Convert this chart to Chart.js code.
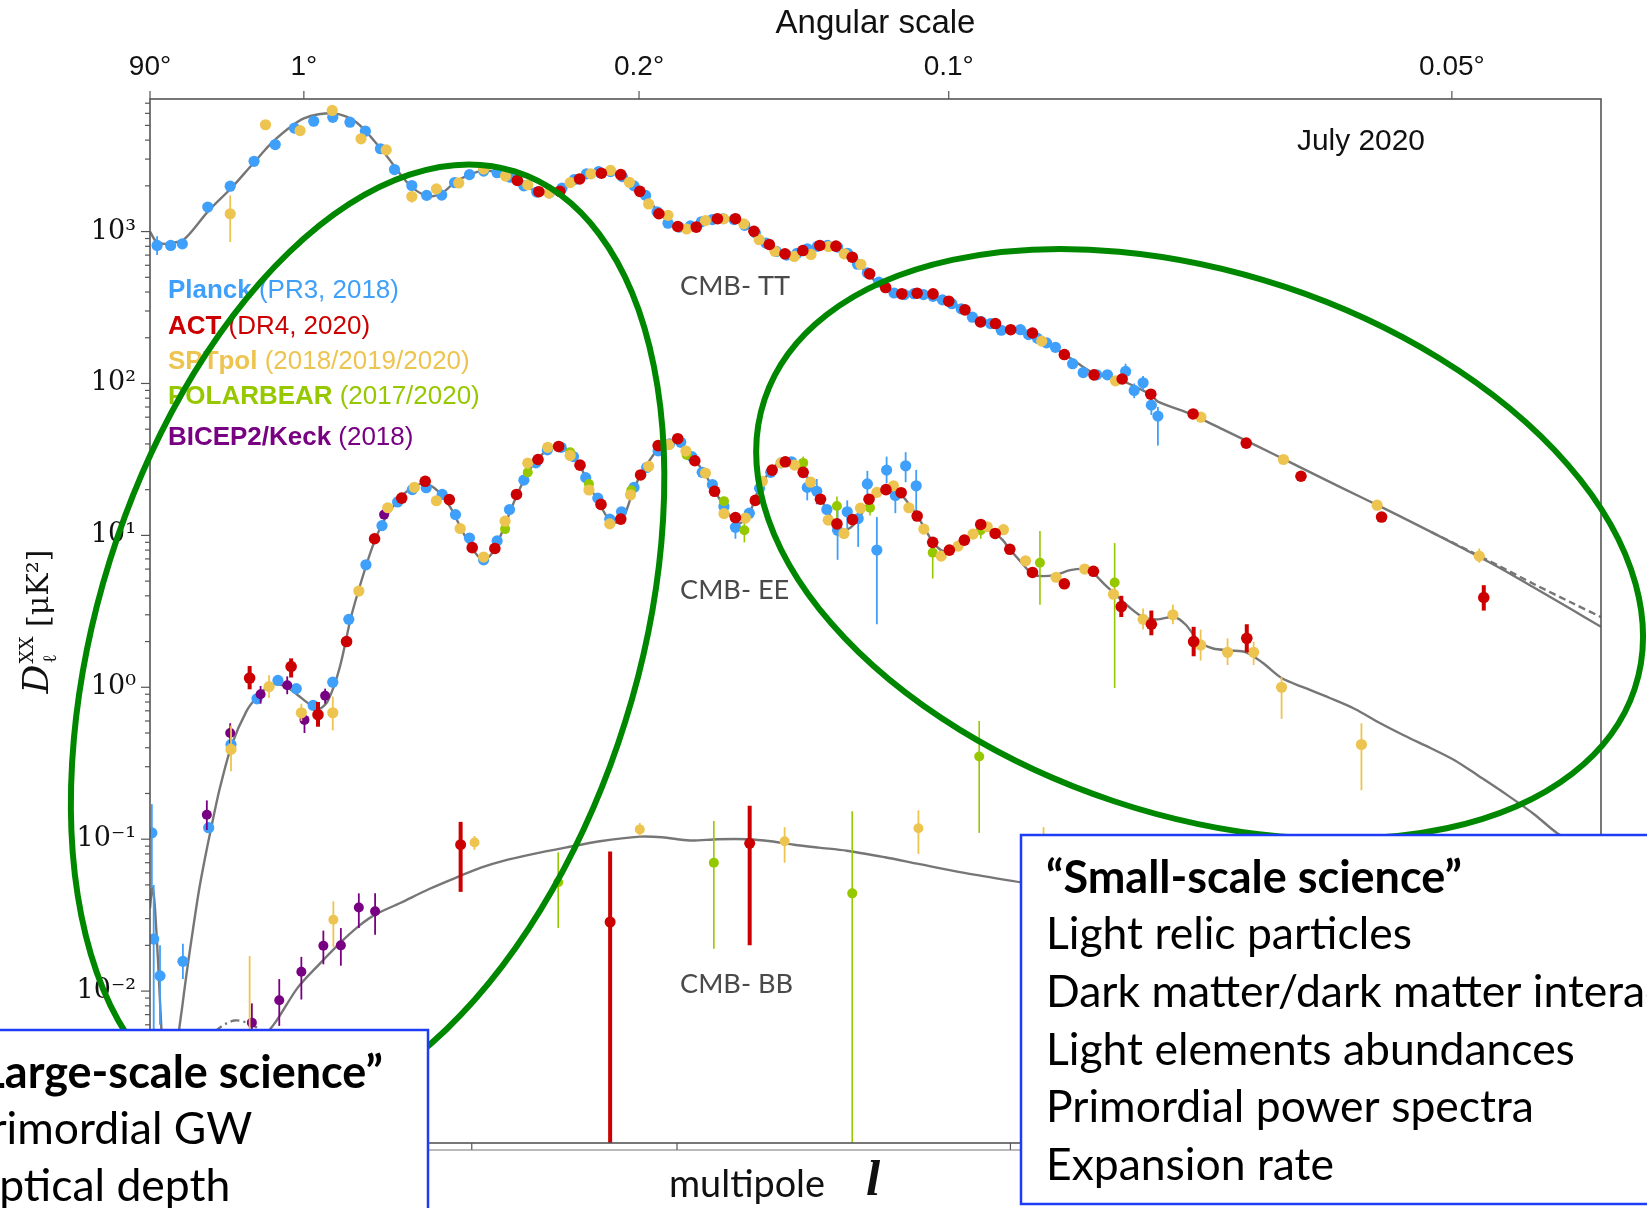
<!DOCTYPE html>
<html>
<head>
<meta charset="utf-8">
<script src="https://cdn.jsdelivr.net/npm/chart.js@4.4.0/dist/chart.umd.min.js"></script>
<style>
  html, body { margin: 0; padding: 0; background: #fff; }
  canvas { display: block; }
</style>
</head>
<body>
<canvas id="cmbSpectra" width="1647" height="1208"></canvas>
<script>
// =================== data ===================
// rows are [multipole ell, D_ell in muK^2, error low, error high]

const theoryTT = [[2,1000],[5,860],[10,830],[14,840],[25,880],[50,1374],[77,1950],[105,2818],[135,4000],[180,5560],[230,6000],
  [270,5230],[318,3400],[369,2050],[405,1720],[434,1770],[463,2100],[495,2370],[526,2520],[556,2460],[586,2280],[617,2020],
  [647,1850],[677,1820],[707,1920],[737,2170],[767,2380],[800,2480],[827,2480],[857,2330],[887,2000],[917,1720],[947,1380],
  [976,1170],[1006,1075],[1036,1090],[1066,1150],[1096,1200],[1126,1215],[1156,1195],[1186,1110],[1216,990],[1246,850],
  [1276,750],[1306,710],[1336,730],[1366,780],[1396,805],[1426,810],[1456,790],[1486,720],[1516,620],[1546,530],[1576,460],
  [1606,420],[1640,395],[1680,390],[1720,390],[1760,375],[1800,348],[1840,315],[1880,280],[1920,256],[1960,240],[2000,226],
  [2040,215],[2080,205],[2120,185],[2160,165],[2200,147],[2240,130],[2280,117],[2320,111],[2360,108],[2400,100],[2440,92],
  [2480,84],[2503,76],[2610,64],[2733,50],[2857,39],[2986,30],[3118,23],[3253,17.7],[3393,13.5],[3520,10.5],[3650,8.1],
  [3790,6.1],[3930,4.5],[4080,3.25],[4200,2.5]];
const theoryTTfg = [[3520,10.5],[3650,8.2],[3790,6.25],[3930,4.75],[4080,3.6],[4200,2.9]];

const theoryEE = [[2,0.035],[3,0.048],[4,0.04],[5,0.026],[6,0.016],[7,0.0095],[8,0.0058],[10,0.0022],[12,0.0009],[14,0.0006],
  [17,0.0012],[20,0.0045],[24,0.008],[28,0.0134],[34,0.026],[40,0.047],[46,0.075],[52,0.113],[62,0.21],[77,0.42],[96,0.70],
  [110,0.86],[130,1.04],[150,1.02],[170,0.89],[190,0.77],[205,0.72],[220,0.82],[240,1.35],[260,2.9],[280,5.2],[300,8.6],
  [320,12.4],[340,15.8],[360,18.8],[380,21],[400,22],[420,20.6],[440,17.8],[460,14.2],[480,10.6],[500,8.3],[520,7.0],
  [535,7.1],[550,8.1],[570,11],[590,15.5],[610,21],[630,27],[650,32],[675,37],[700,38.5],[725,35.5],[750,29],[775,21],
  [800,16],[825,12.5],[845,12.2],[860,13.2],[880,18],[900,24],[925,30.5],[950,37],[975,40.5],[1000,42],[1025,37],[1050,31],
  [1075,25.5],[1100,20],[1125,16],[1150,13],[1170,12],[1185,12.6],[1200,14],[1225,20],[1250,25],[1275,29],[1300,30.5],
  [1325,30],[1350,27],[1375,22.5],[1400,18.5],[1425,14.5],[1450,12],[1475,10.8],[1500,11.5],[1525,13.5],[1550,16.5],
  [1575,18.5],[1600,19.5],[1625,19.5],[1650,18.5],[1675,16],[1700,13.5],[1725,11],[1750,9],[1775,8],[1800,7.8],[1825,8.3],
  [1850,9.3],[1875,10.3],[1900,10.8],[1925,10.8],[1950,10.3],[1975,9.3],[2000,8.0],[2040,6.5],[2070,5.6],[2100,5.4],
  [2150,5.5],[2200,5.9],[2250,6.0],[2280,5.6],[2320,4.7],[2360,4.0],[2400,3.4],[2450,2.9],[2500,2.8],[2560,2.9],[2600,2.6],
  [2650,2.0],[2700,1.8],[2760,1.75],[2820,1.7],[2880,1.45],[2950,1.15],[3037,0.99],[3130,0.85],[3225,0.72],[3322,0.58],
  [3416,0.48],[3514,0.40],[3612,0.33],[3707,0.26],[3820,0.195],[3930,0.145],[4020,0.11],[4200,0.075]];

const theoryBB = [[20,0.0003],[40,0.0009],[70,0.0022],[100,0.0038],[137,0.0063],[170,0.0105],[205,0.015],[242,0.021],
  [275,0.027],[305,0.032],[352,0.038],[410,0.047],[473,0.057],[520,0.065],[570,0.072],[640,0.08],[715,0.088],[800,0.097],
  [902,0.104],[960,0.103],[1035,0.098],[1110,0.1],[1195,0.1],[1260,0.097],[1327,0.092],[1400,0.088],[1484,0.084],
  [1600,0.076],[1700,0.069],[1850,0.06],[2035,0.052],[2400,0.04],[3000,0.026],[3600,0.018],[4200,0.013]];
const theoryBBtensor = [[30,0.0025],[45,0.0042],[60,0.0056],[80,0.0064],[100,0.0061],[120,0.0053],[150,0.0038],[190,0.0022],[240,0.001]];

const planckTT = [[5.5,810,700,930],[14.5,810],[24,830],[49,1450],[75,1990],[106,2900],[136,3740],[165,4800],[196,5330],
  [228,5650],[258,5250],[286,4580],[314,3510],[341,2560],[375,2010],[405,1730],[436,1740],[463,2100],[495,2370],[526,2500],
  [556,2440],[586,2280],[617,2000],[647,1820],[677,1800],[707,1930],[737,2200],[767,2400],[797,2480],[827,2480],[857,2300],
  [887,2000],[917,1730],[947,1350],[976,1135],[1006,1070],[1036,1090],[1066,1160],[1096,1200],[1126,1215],[1156,1200],
  [1186,1100],[1216,980],[1246,840],[1276,740],[1306,700],[1336,720],[1366,770],[1396,800],[1426,810],[1456,790],[1486,720],
  [1516,610],[1546,535],[1581,465],[1628,394],[1660,385],[1690,390],[1720,385],[1750,375],[1780,355],[1810,335],[1840,310],
  [1876,273],[1905,255],[1935,248],[1970,224],[2033,226],[2060,210],[2090,198],[2120,185],[2150,173],[2208,135],[2244,118],
  [2290,114],[2327,114],[2390,120,105,135],[2420,90,80,100],[2451,101,90,112],[2480,72,62,82],[2503,61,39,70]];
const actTT = [[602,2170],[652,1830],[702,1840],[750,2220],[804,2420],[853,2370],[902,1840],[952,1310],[1002,1080],[1052,1070],
  [1110,1215],[1160,1215],[1212,1005],[1256,822],[1301,714],[1353,750],[1403,810],[1451,802],[1500,678],[1553,527],[1602,428],
  [1652,389],[1700,393],[1750,389],[1800,348],[1852,305],[1902,254],[1951,248],[2001,226],[2073,215],[2180,155],[2281,114],
  [2378,107],[2478,85],[2628,63],[2820,40.5],[3022,24.5],[3327,13.2],[3726,3.9,3.2,4.7]];
const sptTT = [[75,1310,853,1730],[122,5050,4700,5400],[174,4620,4250,5000],[227,6270],[278,4080],[325,3450],[375,1700,1550,1850],
  [425,1910],[472,2090],[526,2580],[575,2320],[626,2030],[676,1790],[727,2100],[778,2400],[827,2530],[875,2110],[925,1520],
  [976,1280],[1026,1040],[1077,1180],[1127,1215],[1183,1125],[1227,884],[1272,742],[1328,686],[1377,707],[1429,797],[1476,714],
  [1526,609],[2104,190],[2355,104],[2656,60],[2957,31.6],[3310,15.8],[3708,7.3,6.6,8.2]];

const planckEE = [[2.8,0.11,0.048,0.17],[3.7,0.022,0.001,0.05],[7.2,0.0126,0.006,0.02],[24.5,0.0157,0.012,0.0205],[50,0.119],
  [76,0.42],[110,0.84],[140,1.11],[168,0.98],[195,0.76],[228,1.08],[256,2.8],[287,6.4],[317,11.6],[347,16.6],[376,20],
  [404,20.6],[437,18.6],[465,13.7],[495,9.6],[526,6.9],[556,9.2],[584,14.8],[617,23.1],[645,30],[672,36.6],[705,38],[735,33],
  [765,24],[795,17.6],[825,12.8],[855,14.3],[887,20.7],[920,28],[950,36],[980,40],[1010,41],[1040,33],[1068,26],[1096,21.6],
  [1128,15.5],[1160,11.3,9.5,13],[1199,14],[1228,20.4],[1260,26],[1290,30],[1320,30.5],[1366,20.7,17,25],[1394,19.5,16,23.5],
  [1424,14.8],[1456,10.8,6.9,15.8],[1485,14.3,11,17],[1518,12.9,8.4,15],[1546,21.8,18,26.6],[1575,8.0,2.6,13.2],
  [1605,26.9,22,33],[1632,18.3,14,22],[1664,28.7,22.4,35.3],[1697,21.2,13,27]];
const actEE = [[100,1.15,0.97,1.38],[160,1.37,1.16,1.55],[203,0.66,0.55,0.80],[252,2.0],[303,9.5],[355,17.6],[402,22.7],
  [452,17.2],[501,8.3],[551,8.2],[600,18.6],[650,31.6],[699,38.5],[751,29],[803,16],[853,12.8],[904,25],[950,39],[1002,43.3],
  [1048,31],[1102,19.5],[1160,13.1],[1216,17],[1264,26.9],[1302,30.5],[1354,26],[1405,17.3],[1454,11.9],[1501,12.7],
  [1551,17.3],[1603,20],[1650,19.1],[1700,13.4],[1749,9.0],[1802,8.0],[1850,9.3],[1903,11.8],[1950,10.3],[1998,8.1],
  [2073,5.7],[2180,4.8],[2279,5.8],[2375,3.4,2.9,4.0],[2480,2.6,2.2,3.2],[2630,2.0,1.6,2.5],[2822,2.1,1.7,2.6]];
const sptEE = [[76,0.39,0.28,0.56],[127,1.01,0.85,1.2],[176,0.68,0.6,0.78],[228,0.68,0.52,0.87],[274,4.3],[328,15.2],[380,20.7],
  [425,16.9],[475,11.1],[526,7.2],[574,12.4],[626,29.9],[673,38],[727,33.6],[773,19.9],[825,11.9],[878,18.5],[925,28.5],
  [978,39.6],[1024,35.9],[1077,25.7],[1128,13.9],[1188,13],[1236,22.7],[1290,30],[1329,29],[1376,22.4],[1428,12.6],[1475,10.3],
  [1525,15.1],[1575,19.2],[1626,21.2],[1674,15.2],[1721,11.0],[1776,7.3],[1830,8.5],[1878,10.2],[1924,11.4],[1977,10.9],
  [2050,6.8],[2152,5.3],[2249,6.0],[2348,4.1],[2451,2.8,2.4,3.3],[2556,3.0,2.6,3.5],[2655,1.9,1.5,2.4],[2752,1.7,1.4,2.1],
  [2847,1.7,1.4,2.0],[2950,1.0,0.62,1.17],[3250,0.42,0.21,0.58]];
const pbEE = [[574,11.0],[626,26],[727,35.3],[773,21.8],[880,19.8],[1026,33.8],[1128,16.8],[1185,10.8,9,12.5],[1354,30,26,33],
  [1454,15.6,13,18],[1554,15.2,13.5,17],[1749,7.7,5.2,9.3],[1903,10.8,9.5,12.5],[2098,6.6,3.5,10.7],[2352,4.9,0.99,8.9]];
const bkEE = [[48,0.145,0.115,0.18],[75,0.50,0.43,0.58],[115,0.90,0.78,1.02],[154,1.03,0.9,1.18],[181,0.61,0.5,0.72],
  [215,0.88,0.78,0.98],[321,13.7]];

const actBB = [[476,0.092,0.045,0.13],[826,0.0285,0.0005,0.083],[1200,0.094,0.02,0.166]];
const sptBB = [[100,0.004,0.0008,0.017],[229,0.0295,0.0195,0.039],[506,0.095,0.085,0.105],[902,0.116,0.105,0.128],
  [1300,0.097,0.07,0.12],[1704,0.118,0.08,0.155],[2110,0.09,0.07,0.12]];
const pbBB = [[698,0.052,0.026,0.082],[1100,0.070,0.019,0.132],[1500,0.044,0.0005,0.153],[1898,0.35,0.11,0.6]];
const bkBB = [[103,0.0062,0.002,0.0083],[142,0.0087,0.0059,0.012],[176,0.0134,0.0088,0.0168],[212,0.0199,0.015,0.025],
  [242,0.020,0.0147,0.026],[274,0.0355,0.026,0.044],[304,0.0335,0.0235,0.044]];

// axis ticks
const bottomTickEll = [2, 10, 100, 500, 1000, 2000, 3000, 4000];
const angleTickEll = [2, 180, 900, 1800, 3600];
const angleTickLabels = ['90°', '1°', '0.2°', '0.1°', '0.05°'];

// legend entries
const legendNames = ['Planck', 'ACT', 'SPTpol', 'POLARBEAR', 'BICEP2/Keck'];
const legendNotes = [' (PR3, 2018)', ' (DR4, 2020)', ' (2018/2019/2020)', ' (2017/2020)', ' (2018)'];

// =================== helper functions =======================
const POW = 0.7;               // the multipole axis is linear in ell^0.7
const ELL_MIN = 2, ELL_MAX = 4200;
const colors = {
    planck: 'rgb(62,160,250)',
    act: 'rgb(204,0,0)',
    spt: 'rgb(238,196,80)',
    pb: 'rgb(150,200,0)',
    bk: 'rgb(120,0,130)'
};
const SUP = { '-': '⁻', '0': '⁰', '1': '¹', '2': '²', '3': '³' };

function ellToAxis(l) {
    return Math.pow(l, POW);
}

function toPoints(rows) {
    return rows.map(r => ({ x: ellToAxis(r[0]), y: r[1], lo: r[2], hi: r[3] }));
}

function isDecade(v) {
    const e = Math.log10(v);
    return Math.abs(e - Math.round(e)) < 1e-6;
}

function decadeLabel(v) {
    const e = String(Math.round(Math.log10(v)));
    return '10' + e.split('').map(c => SUP[c]).join('');
}

function pointSet(rows, color, order, radius, errWidth) {
    return {
        data: toPoints(rows),
        backgroundColor: color,
        borderColor: color,
        pointRadius: radius,
        pointBorderWidth: 0,
        showLine: false,
        order: order,
        errWidth: errWidth
    };
}

function curveSet(rows, dash) {
    return {
        data: toPoints(rows),
        showLine: true,
        borderColor: 'rgb(118,118,118)',
        borderWidth: 2.4,
        borderDash: dash || [],
        pointRadius: 0,
        tension: 0.3,
        fill: false,
        order: 20
    };
}

// font size that makes text span the given width
function fitSize(ctx, parts, width) {
    let w = 0;
    parts.forEach(p => {
        ctx.font = p.style + ' 100px ' + p.family;
        w += ctx.measureText(p.text).width;
    });
    return 100 * width / w;
}

function line(ctx, x1, y1, x2, y2) {
    ctx.beginPath();
    ctx.moveTo(x1, y1);
    ctx.lineTo(x2, y2);
    ctx.stroke();
}
// =================== END HELPER FUNCTIONS ===================

// vertical error bars, drawn just under each dataset's dots
const errorBars = {
    id: 'errorBars',
    beforeDatasetDraw(chart, args) {
        const ds = chart.data.datasets[args.index];
        if (!ds.errWidth) return;
        const { ctx, chartArea: a, scales: { x, y } } = chart;
        ctx.save();
        ctx.beginPath();
        ctx.rect(a.left, a.top, a.width, a.height);
        ctx.clip();
        ctx.strokeStyle = ds.backgroundColor;
        ctx.lineWidth = ds.errWidth;
        ds.data.forEach(p => {
            if (p.lo == null) return;
            const px = x.getPixelForValue(p.x);
            line(ctx, px, y.getPixelForValue(p.lo), px, y.getPixelForValue(p.hi));
        });
        ctx.restore();
    }
};

// frame, tick marks, labels and the slide annotations on top
const overlay = {
    id: 'overlay',
    afterDraw(chart) {
        const { ctx, chartArea: a, scales } = chart;
        ctx.save();

        // frame and tick marks
        ctx.strokeStyle = '#555';
        ctx.lineWidth = 1.6;
        ctx.strokeRect(a.left, a.top, a.width, a.height);
        ctx.lineWidth = 1.2;
        scales.y.ticks.forEach(t => {
            const py = scales.y.getPixelForValue(t.value);
            const len = isDecade(t.value) ? 9 : 5;
            line(ctx, a.left - len, py, a.left, py);
        });
        scales.xTop.ticks.forEach(t => {
            const px = scales.xTop.getPixelForValue(t.value);
            line(ctx, px, a.top - 8, px, a.top);
        });
        scales.x.ticks.forEach(t => {
            const px = scales.x.getPixelForValue(t.value);
            line(ctx, px, a.bottom, px, a.bottom + 7);
        });
        ctx.strokeStyle = '#777';
        line(ctx, a.left, a.bottom + 7, a.right, a.bottom + 7);

        // y axis title  D_l^XX [muK^2]
        ctx.save();
        ctx.translate(37, 622);
        ctx.rotate(-Math.PI / 2);
        ctx.fillStyle = '#111';
        ctx.textBaseline = 'alphabetic';
        const fD = 'italic 36px "DejaVu Serif"', fS = '19px "DejaVu Serif"', fR = '30px "DejaVu Serif"';
        ctx.font = fD; const wD = ctx.measureText('D').width;
        ctx.font = fS; const wS = ctx.measureText('XX').width;
        ctx.font = fR; const wR = ctx.measureText(' [μK²]').width;
        let px = -(wD + wS + wR) / 2;
        ctx.font = fD; ctx.fillText('D', px, 11); px += wD + 1;
        ctx.font = fS; ctx.fillText('XX', px, -4); ctx.fillText('ℓ', px, 19); px += wS;
        ctx.font = fR; ctx.fillText(' [μK²]', px, 11);
        ctx.restore();

        // x axis title
        ctx.fillStyle = '#111';
        ctx.textBaseline = 'middle';
        const mSize = fitSize(ctx, [{ style: 'normal', family: 'Lato', text: 'multipole' }], 156);
        ctx.font = mSize + 'px Lato';
        ctx.fillText('multipole', 669, 1185);
        ctx.font = 'italic bold ' + (mSize * 1.35) + 'px "Liberation Serif"';
        ctx.fillText('l', 866, 1182);

        // date and spectrum names
        const jSize = fitSize(ctx, [{ style: 'normal', family: '"Liberation Sans"', text: 'July 2020' }], 128);
        ctx.font = jSize + 'px "Liberation Sans"';
        ctx.fillText('July 2020', 1297, 142);
        const cSize = fitSize(ctx, [{ style: 'normal', family: 'Lato', text: 'CMB- TT' }], 110);
        ctx.font = cSize + 'px Lato';
        ctx.fillStyle = '#4a4a4a';
        ctx.fillText('CMB- TT', 680, 286);
        ctx.fillText('CMB- EE', 680, 590);
        ctx.fillText('CMB- BB', 680, 984);

        // experiment legend
        const legendColors = [colors.planck, colors.act, colors.spt, colors.pb, colors.bk];
        const legendY = [291, 327, 362, 397, 438];
        const lSize = fitSize(ctx, [
            { style: 'bold', family: '"Liberation Sans"', text: legendNames[0] },
            { style: 'normal', family: '"Liberation Sans"', text: legendNotes[0] }
        ], 231);
        legendNames.forEach((name, i) => {
            ctx.fillStyle = legendColors[i];
            ctx.font = 'bold ' + lSize + 'px "Liberation Sans"';
            ctx.fillText(name, 168, legendY[i]);
            const w = ctx.measureText(name).width;
            ctx.font = lSize + 'px "Liberation Sans"';
            ctx.fillText(legendNotes[i], 168 + w, legendY[i]);
        });

        // green ellipses
        ctx.strokeStyle = 'rgb(0,135,0)';
        ctx.lineWidth = 6;
        ctx.beginPath();
        ctx.ellipse(367.6, 640.9, 492, 270, -72.6 * Math.PI / 180, 0, 2 * Math.PI);
        ctx.stroke();
        ctx.beginPath();
        ctx.ellipse(1199.6, 544.1, 458.5, 271, 18.4 * Math.PI / 180, 0, 2 * Math.PI);
        ctx.stroke();

        // text boxes
        const boxFont = 'Lato';
        const bSize = fitSize(ctx, [{ style: 'bold', family: boxFont, text: '“Small-scale science”' }], 416);
        const rSize = fitSize(ctx, [{ style: 'normal', family: boxFont, text: 'Light elements abundances' }], 529);
        ctx.lineWidth = 2.5;
        ctx.strokeStyle = 'rgb(30,60,245)';
        ctx.fillStyle = '#fff';
        ctx.fillRect(1021, 835, 700, 369);
        ctx.strokeRect(1021, 835, 700, 369);
        ctx.fillRect(-10, 1030, 438, 220);
        ctx.strokeRect(-10, 1030, 438, 220);

        ctx.fillStyle = '#000';
        ctx.font = 'bold ' + bSize + 'px ' + boxFont;
        ctx.fillText('“Small-scale science”', 1046, 878);
        const leftText = '“Large-scale science”';
        const x0 = 383 - ctx.measureText(leftText).width;
        ctx.fillText(leftText, x0, 1073);
        ctx.font = rSize + 'px ' + boxFont;
        const smallLines = ['Light relic particles', 'Dark matter/dark matter interactions', 'Light elements abundances',
            'Primordial power spectra', 'Expansion rate'];
        smallLines.forEach((t, i) => ctx.fillText(t, 1046, 935 + i * 57.6));
        ctx.fillText('Primordial GW', x0, 1130);
        ctx.fillText('Optical depth', x0, 1187);

        ctx.restore();
    }
};

function cmbSpectraChart() {
    const ctx = document.getElementById('cmbSpectra');
    const myChart = new Chart(ctx, {
        type: 'scatter',
        data: {
            datasets: [
                curveSet(theoryTT),
                curveSet(theoryTTfg, [7, 4]),
                curveSet(theoryEE),
                curveSet(theoryBB),
                curveSet(theoryBBtensor, [9, 4, 2, 4]),
                pointSet(planckTT, colors.planck, 10, 5.6, 1.8),
                pointSet(planckEE, colors.planck, 10, 5.6, 1.8),
                pointSet(bkEE, colors.bk, 8, 5, 1.8),
                pointSet(bkBB, colors.bk, 8, 5, 1.8),
                pointSet(pbEE, colors.pb, 6, 5, 1.6),
                pointSet(pbBB, colors.pb, 6, 5, 1.6),
                pointSet(sptTT, colors.spt, 4, 5.6, 1.8),
                pointSet(sptEE, colors.spt, 4, 5.6, 1.8),
                pointSet(sptBB, colors.spt, 4, 5, 1.8),
                pointSet(actTT, colors.act, 2, 5.8, 4),
                pointSet(actEE, colors.act, 2, 5.8, 4),
                pointSet(actBB, colors.act, 2, 5.5, 4)
            ]
        },
        options: {
            responsive: false,
            devicePixelRatio: 1,
            animation: false,
            events: [],
            layout: { padding: { left: 0, right: 46, top: 0, bottom: 0 } },
            plugins: {
                legend: { display: false },
                tooltip: { enabled: false }
            },
            scales: {
                x: {
                    type: 'linear',
                    position: 'bottom',
                    min: ellToAxis(ELL_MIN),
                    max: ellToAxis(ELL_MAX),
                    grid: { display: false },
                    border: { display: false },
                    ticks: { display: false },
                    afterBuildTicks: s => { s.ticks = bottomTickEll.map(l => ({ value: ellToAxis(l) })); },
                    afterFit: s => { s.height = 65; }
                },
                xTop: {
                    type: 'linear',
                    position: 'top',
                    min: ellToAxis(ELL_MIN),
                    max: ellToAxis(ELL_MAX),
                    grid: { display: false },
                    border: { display: false },
                    ticks: {
                        autoSkip: false,
                        maxRotation: 0,
                        padding: 7,
                        color: '#111',
                        font: { family: 'Liberation Sans', size: 28 },
                        callback: (v, i) => angleTickLabels[i]
                    },
                    title: {
                        display: true,
                        text: 'Angular scale',
                        color: '#111',
                        font: { family: 'Liberation Sans', size: 33 },
                        padding: { top: 4, bottom: 0 }
                    },
                    afterBuildTicks: s => { s.ticks = angleTickEll.map(l => ({ value: ellToAxis(l) })); },
                    afterFit: s => { s.height = 99; }
                },
                y: {
                    type: 'logarithmic',
                    min: 1e-3,
                    max: 7460,
                    grid: { display: false },
                    border: { display: false },
                    ticks: {
                        autoSkip: false,
                        padding: 6,
                        color: '#111',
                        font: { family: 'DejaVu Serif', size: 27 },
                        callback: (v, i, t) => isDecade(t[i].value) ? decadeLabel(t[i].value) : ''
                    },
                    afterBuildTicks: s => {
                        const t = [];
                        for (let e = -3; e <= 3; e++) {
                            for (let k = 1; k <= 9; k++) {
                                const v = k * Math.pow(10, e);
                                if (v <= 7460) t.push({ value: v });
                            }
                        }
                        s.ticks = t;
                    },
                    afterFit: s => { s.width = 150; }
                }
            }
        },
        plugins: [errorBars, overlay]
    });
    return myChart;
}

cmbSpectraChart();
</script>
</body>
</html>
